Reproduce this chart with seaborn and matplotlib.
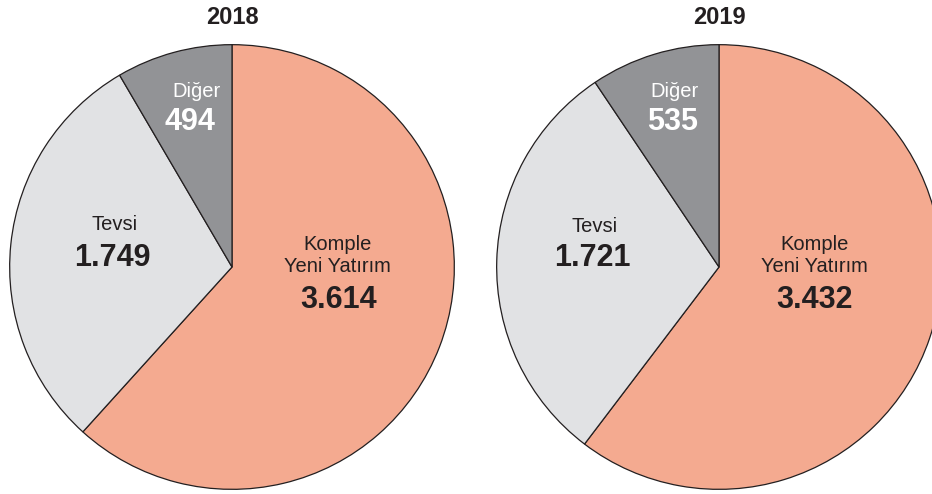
import matplotlib
matplotlib.use("Agg")
import matplotlib.pyplot as plt
from matplotlib import font_manager
import seaborn as sns

# 数据
years = ["2018", "2019"]
categories = ["Komple\nYeni Yatırım", "Tevsi", "Diğer"]
values_2018 = [3614, 1749, 494]
values_2019 = [3432, 1721, 535]
value_labels_2018 = ["3.614", "1.749", "494"]
value_labels_2019 = ["3.432", "1.721", "535"]

colors = ["#F4AA90", "#E1E2E4", "#929396"]
text_colors = ["#231F20", "#231F20", "#FFFFFF"]

sns.set_theme(style="white")

# 找到常规宽度的 Liberation Sans（避免匹配到 Narrow）
reg_file, bold_file = None, None
for f in font_manager.findSystemFonts():
    name = f.split("/")[-1]
    if name == "LiberationSans-Regular.ttf":
        reg_file = f
    elif name == "LiberationSans-Bold.ttf":
        bold_file = f
if reg_file:
    font_manager.fontManager.addfont(reg_file)
    reg_prop = font_manager.FontProperties(fname=reg_file)
else:
    reg_prop = font_manager.FontProperties(family="DejaVu Sans")
if bold_file:
    bold_prop = font_manager.FontProperties(fname=bold_file)
else:
    bold_prop = font_manager.FontProperties(family="DejaVu Sans", weight="bold")

W, H = 932, 494
fig = plt.figure(figsize=(W / 100, H / 100), dpi=100)
fig.patch.set_facecolor("white")

R = 223
centers = [(232, 267), (719, 267)]
# label offsets (in pie radius units) for name / value
name_pos = {
    "2018": [(0.475, 0.05), (-0.53, 0.19), (-0.16, 0.79)],
    "2019": [(0.43, 0.05), (-0.56, 0.18), (-0.20, 0.79)],
}
value_pos = {
    "2018": [(0.48, -0.15), (-0.54, 0.04), (-0.19, 0.65)],
    "2019": [(0.43, -0.15), (-0.57, 0.04), (-0.21, 0.65)],
}

for year, vals, vlabels, (cx, cy) in zip(
        years, [values_2018, values_2019],
        [value_labels_2018, value_labels_2019], centers):
    ax = fig.add_axes([(cx - R) / W, (H - cy - R) / H, 2 * R / W, 2 * R / H])
    ax.pie(vals, colors=colors, startangle=90, counterclock=False,
           radius=1, wedgeprops=dict(edgecolor="#231F20", linewidth=0.9))
    ax.set_xlim(-1.003, 1.003)
    ax.set_ylim(-1.003, 1.003)
    ax.set_aspect("equal")
    ax.axis("off")
    for i, cat in enumerate(categories):
        nx, ny = name_pos[year][i]
        ax.text(nx, ny, cat, ha="center", va="center", fontproperties=reg_prop,
                fontsize=14.5, color=text_colors[i], linespacing=1.2)
        vx, vy = value_pos[year][i]
        ax.text(vx, vy, vlabels[i], ha="center", va="center",
                fontproperties=bold_prop, fontsize=22, color=text_colors[i])
    fig.text(cx / W, 1 - 17 / H, year, ha="center", va="center",
             fontproperties=bold_prop, fontsize=17, color="#231F20")

fig.savefig("out.png", dpi=100)
